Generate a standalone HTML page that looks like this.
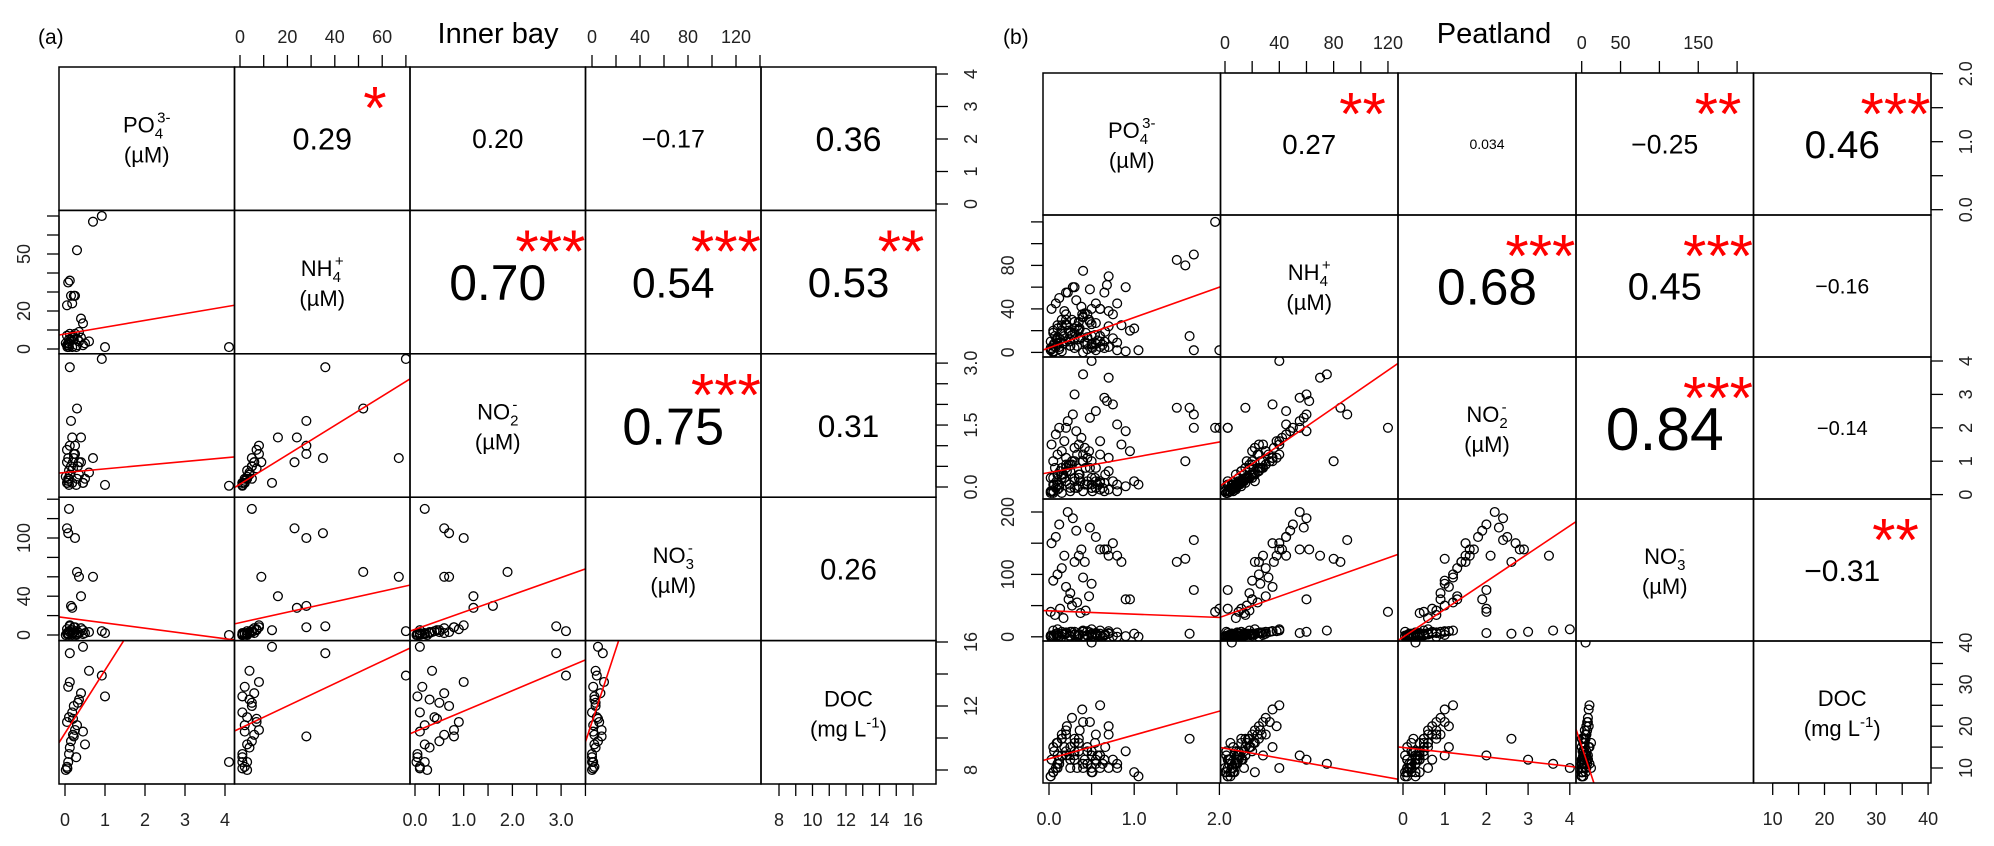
<!DOCTYPE html>
<html><head><meta charset="utf-8"><title>Pairs correlation matrix</title>
<style>
html,body{margin:0;padding:0;background:#fff;overflow:hidden;width:1994px;height:846px;}
svg{display:block;font-family:"Liberation Sans",Arial,sans-serif;}
</style></head>
<body>
<svg id="chart" width="1994" height="846" viewBox="0 0 1994 846" xmlns="http://www.w3.org/2000/svg">
<text x="38" y="44" font-size="21">(a)</text>
<text x="498" y="43" font-size="29" text-anchor="middle">Inner bay</text>
<text x="1003" y="44" font-size="21">(b)</text>
<text x="1494" y="43" font-size="29" text-anchor="middle">Peatland</text>
</svg>
<script>
// ---------- Panel (a) Inner bay data (null = missing) ----------
const aPO4=[0.05,0.08,0.10,0.12,0.15,0.2,0.25,0.3,0.05,0.1,0.18,0.22,0.35,0.4,0.08,0.12,0.5,0.45,0.28,0.6,0.15,0.18,0.12,0.22,0.4,0.45,0.3,0.7,0.92,1.0,4.1,0.05,0.08,0.25,0.1,0.35,0.02,0.06,0.2,0.32];
const aNH4=[2,3,1,4,5,6,8,2,7,3,1,5,4,6,2,8,3,2,1,4,28,24,36,28,16,13.5,52,67,70,1,1,23,35,28,5,9,3,1,7,5];
const aNO2=[0.1,0.2,0.05,0.3,0.5,0.6,0.8,0.2,0.9,0.4,0.1,0.7,0.3,0.6,0.15,1.0,0.2,0.1,0.05,0.35,1.6,1.2,2.9,0.8,1.2,0.1,1.9,0.7,3.1,0.05,0.03,0.6,0.7,1.0,0.2,0.6,0.25,0.1,0.45,0.5];
const aNO3=[2,1,0,3,5,2,8,1,6,4,0,3,2,7,1,10,2,1,0,3,30,28,9,8,40,5,65,60,4,2,0,110,105,100,130,60,0,1,5,3];
const aDOC=[8.2,8.5,9.0,9.4,9.8,10.2,10.5,10.8,11.0,11.3,11.6,12.0,12.4,12.8,13.2,13.5,9.6,10.4,8.8,14.2,null,null,15.3,10.1,null,15.7,null,null,13.9,12.6,8.5,null,null,null,null,null,8.0,8.1,11.2,12.2];
// fits: [row, col, intercept, slope]
const aFits=[[1,0,7.9,3.57],[2,0,0.35,0.089],[2,1,0.07,0.0355],[3,0,17.8,-5.4],[3,1,12.7,0.54],[3,2,5.8,17.8],[4,0,10.3,3.94],[4,1,10.6,0.070],[4,2,10.4,1.28],[4,3,11.0,0.229]];
const aCorR=[0.29,0.20,-0.17,0.36,0.70,0.54,0.53,0.75,0.31,0.26];
const aCorLabels=["0.29","0.20","\u22120.17","0.36","0.70","0.54","0.53","0.75","0.31","0.26"];
const aCorStars=["*","","","","***","***","**","***","",""];

// ---------- Panel (b) Peatland data (null = missing) ----------
const bPO4=[.02,.05,.08,.1,.12,.15,.2,.25,.3,.35,.4,.45,.5,.55,.6,.7,.8,.9,.05,.1,.15,.2,.25,.3,.35,.05,.1,.45,.55,.65,.03,.08,.12,.18,.22,.28,.32,.38,.42,.48,.05,.1,.15,.2,.25,.3,.35,.4,.5,.6,.02,.07,.13,.17,.23,.27,.33,.37,.43,.47,.55,.65,.7,.75,.85,.95,1.05,.6,.68,.5,1.6,1.65,1.7,1.7,1.95,2.0,1.5,.9,1.0,.8,.5,.3,.4,.5,.2,
 .03,.06,.09,.12,.15,.18,.21,.24,.27,.3,.33,.36,.39,.42,.45,.48,.51,.54,.57,.6,.63,.66,.7,.75,.8,.05,.1,.15,.2,.25,.3,.35,.4,.45,.5,.55,.6,.65,.7,.02];
const bNH4=[2,0,5,8,3,1,10,6,4,12,0,3,7,2,15,5,9,1,18,22,25,30,12,28,20,6,14,35,8,4,40,45,50,38,55,60,48,42,36,58,20,25,30,35,18,22,28,32,26,40,10,15,12,8,20,16,24,14,18,30,45,55,70,35,25,20,2,10,62,8,80,15,90,2,120,2,85,60,22,45,5,60,75,40,55,
 3,8,12,5,20,15,25,10,30,18,6,22,35,9,14,28,4,16,11,40,7,19,24,13,2,1,9,17,26,6,12,21,33,8,15,27,5,10,38,4];
const bNO2=[.05,.1,.2,.15,.3,.05,.4,.1,.2,.25,.1,.3,.2,.4,.35,.15,.3,.25,.5,.6,.8,.9,.7,1.0,.5,.3,.6,1.1,.2,.1,1.5,1.8,2.0,1.6,2.2,2.4,1.9,1.7,1.4,2.3,1.0,1.2,1.3,1.1,.9,1.4,1.5,1.2,1.0,1.6,.5,.8,.7,.6,.9,1.0,1.2,.4,.8,1.3,2.5,2.9,3.5,2.7,1.5,1.3,.3,.4,2.8,.2,1.0,2.6,2.4,2.0,2.0,2.0,2.6,1.9,.4,2.1,.3,3.0,3.6,4.0,2.0,
 .1,.3,.4,.2,.6,.5,.7,.3,.9,.5,.2,.6,1.0,.3,.4,.8,.1,.5,.3,1.2,.2,.6,.7,.4,.1,.05,.3,.5,.8,.2,.4,.6,1.0,.3,.5,.8,.15,.35,1.1,.1];
const bNO3=[2,0,5,3,1,8,6,0,4,2,1,3,0,6,2,5,7,1,10,12,0,5,8,3,2,1,6,9,4,3,150,160,180,130,200,190,170,140,120,175,90,100,110,80,70,120,130,95,85,140,40,35,45,30,60,50,55,38,42,65,160,140,130,150,120,60,0,5,140,3,125,5,155,75,40,45,120,60,5,130,5,8,10,12,6,
 1,3,2,0,5,4,6,2,8,3,1,4,9,0,2,7,1,3,2,10,0,4,6,1,0,0,2,5,7,1,3,4,8,2,3,6,1,2,9,0];
const bDOC=[8,9,10,11,12,13,14,15,16,17,10,11,9,12,13,10,11,14,15,16,17,18,12,13,14,9,10,15,11,12,null,null,null,null,null,null,null,null,null,null,null,null,null,null,null,null,null,null,null,null,null,null,null,null,null,null,null,null,null,null,null,null,null,null,null,null,8,13,null,14,null,17,null,null,null,null,null,null,9,null,40,12,11,10,13,
 12,14,16,11,18,15,20,13,22,17,10,19,24,12,14,21,9,16,13,25,11,15,18,12,10,9,13,17,19,10,14,16,21,11,13,18,10,12,20,8];
const bFits=[[1,0,4.2,27.9],[2,0,0.66,0.457],[2,1,0.36,0.028],[3,0,41.6,-5.3],[3,1,34,0.77],[3,2,-0.6,44.6],[4,0,12.2,5.7],[4,1,14.7,-0.058],[4,2,14.9,-1.13],[4,3,15.2,-0.56]];
const bCorR=[0.27,0.034,-0.25,0.46,0.68,0.45,-0.16,0.84,-0.14,-0.31];
const bCorLabels=["0.27","0.034","\u22120.25","0.46","0.68","0.45","\u22120.16","0.84","\u22120.14","\u22120.31"];
const bCorStars=["**","","**","***","***","***","","***","","**"];

// axis tick values & labels
const aTicks=[
 {side:"top",v:1,ticks:[0,10,20,30,40,50,60,70],labels:[0,20,40,60]},
 {side:"top",v:3,ticks:[0,20,40,60,80,100,120,140],labels:[0,40,80,120]},
 {side:"right",v:0,ticks:[0,1,2,3,4],labels:[0,1,2,3,4]},
 {side:"right",v:2,ticks:[0,0.5,1,1.5,2,2.5,3],labels:[0,1.5,3],fmt:1},
 {side:"right",v:4,ticks:[8,10,12,14,16],labels:[8,12,16]},
 {side:"left",v:1,ticks:[0,10,20,30,40,50,60,70],labels:[0,20,50]},
 {side:"left",v:3,ticks:[0,20,40,60,80,100,120,140],labels:[0,40,100]},
 {side:"bottom",v:0,ticks:[0,1,2,3,4],labels:[0,1,2,3,4]},
 {side:"bottom",v:2,ticks:[0,0.5,1,1.5,2,2.5,3,3.5],labels:[0,1,2,3],fmt:1},
 {side:"bottom",v:4,ticks:[8,9,10,11,12,13,14,15,16],labels:[8,10,12,14,16]}
];
const bTicks=[
 {side:"top",v:1,ticks:[0,20,40,60,80,100,120],labels:[0,40,80,120]},
 {side:"top",v:3,ticks:[0,50,100,150,200],labels:[0,50,150]},
 {side:"right",v:0,ticks:[0,0.5,1,1.5,2],labels:[0,1,2],fmt:1},
 {side:"left",v:1,ticks:[0,20,40,60,80,100,120],labels:[0,40,80]},
 {side:"right",v:2,ticks:[0,1,2,3,4],labels:[0,1,2,3,4]},
 {side:"left",v:3,ticks:[0,50,100,150,200],labels:[0,100,200]},
 {side:"right",v:4,ticks:[10,15,20,25,30,35,40],labels:[10,20,30,40]},
 {side:"bottom",v:0,ticks:[0,0.5,1,1.5,2],labels:[0,1,2],fmt:1},
 {side:"bottom",v:2,ticks:[0,1,2,3,4],labels:[0,1,2,3,4]},
 {side:"bottom",v:4,ticks:[10,15,20,25,30,35,40],labels:[10,20,30,40]}
];

const varNames=[["PO","4","3-","(\u00b5M)"],["NH","4","+","(\u00b5M)"],["NO","2","-","(\u00b5M)"],["NO","3","-","(\u00b5M)"],["DOC","","",""]];
const varKeys=["po4","nh4","no2","no3","doc"];

// layout (pixel geometry)
const layoutA={name:"a",cols:[59,234.5,410,585.5,761,936],rows:[67,210.4,353.8,497.2,640.6,784],
 sx:[[65,40,0],[240,2.37,0],[415,48.7,0],[592,1.2,0],[779,16.75,8]],
 sy:[[204,32.5,0],[349,1.9,0],[487,41.3,0],[635,0.97,0],[770,16,8]],fa:17,fb:47};
const layoutB={name:"b",cols:[1043,1220.5,1398,1576,1753.5,1931],rows:[73,215,357,499,641,783],
 sx:[[1049,85.2,0],[1225,1.358,0],[1403,41.7,0],[1581.7,0.777,0],[1772.7,5.18,10]],
 sy:[[209.7,68,0],[352.4,1.0875,0],[494.6,33.4,0],[636.8,0.624,0],[768,4.18,10]],fa:12,fb:58};

const NS="http://www.w3.org/2000/svg";
const svg=document.getElementById("chart");
function mk(tag,attrs,parent){const e=document.createElementNS(NS,tag);for(const k in attrs)e.setAttribute(k,attrs[k]);(parent||svg).appendChild(e);return e;}
const defs=mk("defs",{});

function drawPanel(L,vars,fits,corR,corLab,corStars,ticks){
  const X=(i,v)=>L.sx[i][0]+(v-L.sx[i][2])*L.sx[i][1];
  const Y=(i,v)=>L.sy[i][0]-(v-L.sy[i][2])*L.sy[i][1];
  const Xinv=(i,p)=>(p-L.sx[i][0])/L.sx[i][1]+L.sx[i][2];
  const g=mk("g",{});
  
  
  for(let r=0;r<5;r++)for(let c=0;c<5;c++){
    const x0=L.cols[c],x1=L.cols[c+1],y0=L.rows[r],y1=L.rows[r+1];
    const cid="clip-"+L.name+r+c;
    const cp=mk("clipPath",{id:cid},defs);
    mk("rect",{x:x0,y:y0,width:x1-x0,height:y1-y0},cp);
    const cell=mk("g",{},g);
    
    
    if(r>c){
      const pg=mk("g",{"clip-path":"url(#"+cid+")"},cell);
      const xs=vars[c],ys=vars[r];
      for(let k=0;k<xs.length;k++){
        if(xs[k]==null||ys[k]==null)continue;
        const p=mk("circle",{cx:X(c,xs[k]),cy:Y(r,ys[k]),r:4.4,fill:"none",stroke:"#000","stroke-width":1.3},pg);
        
        
      }
      const f=fits.find(q=>q[0]===r&&q[1]===c);
      if(f){
        const va=Xinv(c,x0),vb=Xinv(c,x1);
        const ln=mk("line",{x1:x0,y1:Y(r,f[2]+f[3]*va),x2:x1,y2:Y(r,f[2]+f[3]*vb),stroke:"#ff0000","stroke-width":1.6},pg);
        
        
      }
    } else if(r===c){
      const nm=varNames[r],cx=(x0+x1)/2,cy=(y0+y1)/2;
      const t=mk("text",{x:cx,y:cy-6,"font-size":22,"text-anchor":"middle"},cell);
      
      
      if(r<4){
        mk("tspan",{},t).textContent=nm[0];
        mk("tspan",{"font-size":15,dy:6},t).textContent=nm[1];
        mk("tspan",{"font-size":15,dy:-16,dx:-6},t).textContent=nm[2];
        const t2=mk("text",{x:cx,y:cy+24,"font-size":22,"text-anchor":"middle"},cell);
        
        
        t2.textContent=nm[3];
      } else {
        t.textContent="DOC";
        const t2=mk("text",{x:cx,y:cy+24,"font-size":22,"text-anchor":"middle"},cell);
        
        
        mk("tspan",{},t2).textContent="(mg L";
        mk("tspan",{"font-size":15,dy:-9},t2).textContent="-1";
        mk("tspan",{dy:9},t2).textContent=")";
      }
    } else {
      let idx=0;for(let rr=0;rr<5;rr++)for(let cc=rr+1;cc<5;cc++){if(rr<r||(rr===r&&cc<c))idx++;}
      const rv=corR[idx],fs=L.fa+L.fb*Math.abs(rv);
      const cx=(x0+x1)/2,cy=(y0+y1)/2;
      const t=mk("text",{x:cx,y:cy+fs*0.36,"font-size":fs.toFixed(1),"text-anchor":"middle"},cell);
      
      
      t.textContent=corLab[idx];
      if(corStars[idx]){
        const sx=x0+0.8*(x1-x0),sy=y1-0.8*(y1-y0);
        const s=mk("text",{x:sx,y:sy+33,"font-size":60,"text-anchor":"middle",fill:"#ff0000"},cell);
        
        
        s.textContent=corStars[idx];
      }
    }
    const box=mk("rect",{x:x0,y:y0,width:x1-x0,height:y1-y0,fill:"none",stroke:"#000","stroke-width":1.5},cell);
    
    
  }
  ticks.forEach(a=>{
    const ag=mk("g",{stroke:"#000","stroke-width":1.3},g);
    
    
    const fmt=v=>a.fmt?v.toFixed(a.fmt):String(v);
    const tl=12;
    if(a.side==="top"||a.side==="bottom"){
      const base=a.side==="top"?L.rows[0]:L.rows[5];
      const d=a.side==="top"?-tl:tl;
      const p0=X(a.v,a.ticks[0]),p1=X(a.v,a.ticks[a.ticks.length-1]);
      mk("line",{x1:p0,y1:base,x2:p1,y2:base},ag);
      a.ticks.forEach(v=>mk("line",{x1:X(a.v,v),y1:base,x2:X(a.v,v),y2:base+d},ag));
      a.labels.forEach(v=>{
        const t=mk("text",{x:X(a.v,v),y:a.side==="top"?base-24:base+42,"font-size":18,"text-anchor":"middle",stroke:"none",fill:"#222"},ag);
        
        
        t.textContent=fmt(v);
      });
    } else {
      const base=a.side==="left"?L.cols[0]:L.cols[5];
      const d=a.side==="left"?-tl:tl;
      const p0=Y(a.v,a.ticks[0]),p1=Y(a.v,a.ticks[a.ticks.length-1]);
      mk("line",{x1:base,y1:p0,x2:base,y2:p1},ag);
      a.ticks.forEach(v=>mk("line",{x1:base,y1:Y(a.v,v),x2:base+d,y2:Y(a.v,v)},ag));
      a.labels.forEach(v=>{
        const lx=a.side==="left"?base-29:base+41,ly=Y(a.v,v);
        const t=mk("text",{x:lx,y:ly,"font-size":18,"text-anchor":"middle",stroke:"none",fill:"#222",transform:"rotate(-90 "+lx+" "+ly+")"},ag);
        
        
        t.textContent=fmt(v);
      });
    }
  });
}
drawPanel(layoutA,[aPO4,aNH4,aNO2,aNO3,aDOC],aFits,aCorR,aCorLabels,aCorStars,aTicks);
drawPanel(layoutB,[bPO4,bNH4,bNO2,bNO3,bDOC],bFits,bCorR,bCorLabels,bCorStars,bTicks);
</script>
</body></html>
